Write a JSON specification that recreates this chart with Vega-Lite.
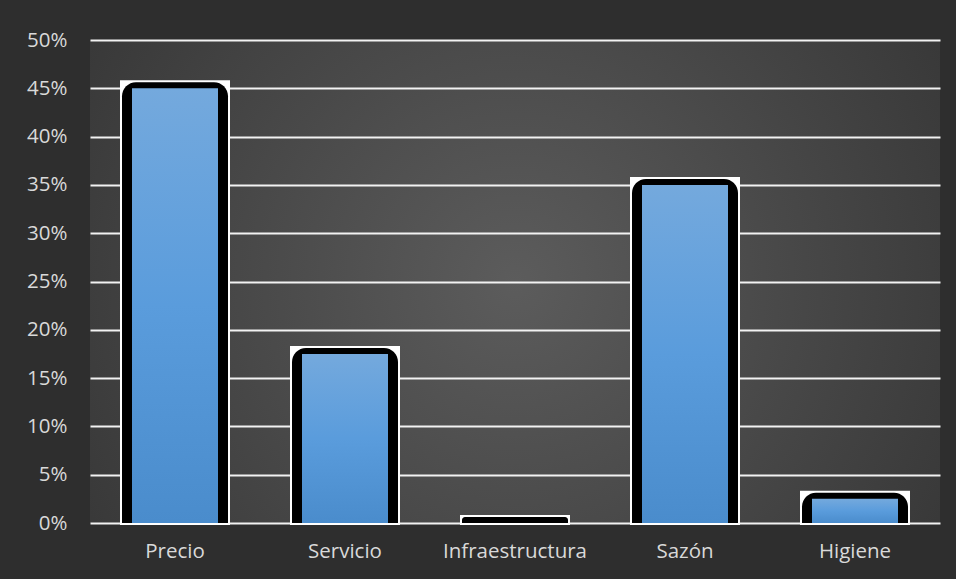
{
  "$schema": "https://vega.github.io/schema/vega-lite/v6.json",
  "width": 850,
  "height": 483,
  "autosize": {"type": "none"},
  "padding": {"left": 90, "top": 40, "right": 16, "bottom": 56},
  "background": "#2e2e2e",
  "data": {
    "values": [
      {"cat": "Precio", "pct": 0.45},
      {"cat": "Servicio", "pct": 0.175},
      {"cat": "Infraestructura", "pct": 0.0},
      {"cat": "Sazón", "pct": 0.35},
      {"cat": "Higiene", "pct": 0.025}
    ]
  },
  "encoding": {
    "x": {
      "field": "cat",
      "type": "nominal",
      "sort": null,
      "scale": {"paddingInner": 0, "paddingOuter": 0},
      "axis": {
        "title": null,
        "labelAngle": 0,
        "domain": false,
        "ticks": false,
        "labelPadding": 18,
        "labelFont": "Open Sans",
        "labelFontSize": 20.5,
        "labelColor": "#d9d9d9",
        "grid": false
      }
    },
    "y": {
      "field": "pct",
      "type": "quantitative",
      "scale": {"domain": [0, 0.5], "nice": false},
      "axis": {
        "title": null,
        "values": [0, 0.05, 0.1, 0.15, 0.2, 0.25, 0.3, 0.35, 0.4, 0.45, 0.5],
        "format": ".0%",
        "domain": false,
        "ticks": false,
        "labelPadding": 23,
        "labelFont": "Open Sans",
        "labelFontSize": 20.5,
        "labelColor": "#d9d9d9",
        "gridColor": "#f2f2f2",
        "gridWidth": 2,
        "gridOpacity": 1
      }
    },
    "y2": {"datum": 0}
  },
  "layer": [
    {"mark": {"type": "bar", "size": 110, "color": "#ffffff", "yOffset": -8, "y2Offset": 2}},
    {"mark": {"type": "bar", "size": 106, "color": "#000000", "yOffset": -6, "y2Offset": 0, "cornerRadiusTopLeft": 14, "cornerRadiusTopRight": 14}},
    {"mark": {"type": "bar", "size": 86, "color": {
      "gradient": "linear", "x1": 0, "y1": 0, "x2": 0, "y2": 1,
      "stops": [
        {"offset": 0, "color": "#74a9dd"},
        {"offset": 0.5, "color": "#5a9cdc"},
        {"offset": 1, "color": "#4a8ccc"}
      ]
    }}}
  ],
  "config": {
    "view": {
      "stroke": null,
      "fill": {
        "gradient": "radial",
        "x1": 0.5, "y1": 0.5, "r1": 0,
        "x2": 0.5, "y2": 0.5, "r2": 0.75,
        "stops": [
          {"offset": 0, "color": "#5c5c5c"},
          {"offset": 1, "color": "#2e2e2e"}
        ]
      }
    }
  }
}
